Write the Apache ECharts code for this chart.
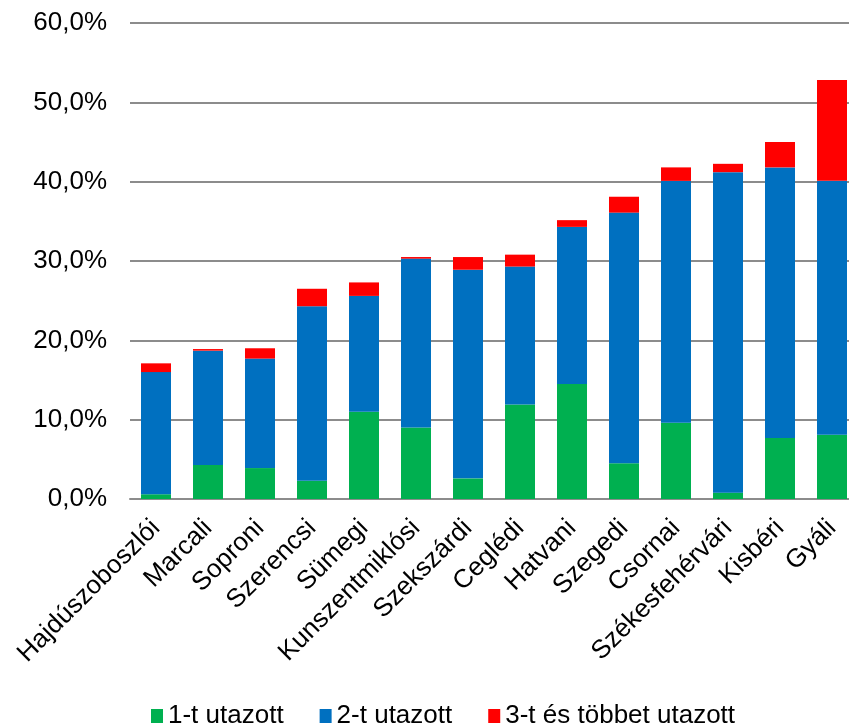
<!DOCTYPE html>
<html>
<head>
<meta charset="utf-8">
<script src="https://cdn.jsdelivr.net/npm/echarts@6/dist/echarts.min.js"></script>
<style>
html,body{margin:0;padding:0;background:#fff;}
#chart{width:849px;height:725px;}
</style>
</head>
<body>
<div id="chart"></div>
<script>
const categories = ['Hajdúszoboszlói','Marcali','Soproni','Szerencsi','Sümegi','Kunszentmiklósi','Szekszárdi','Ceglédi','Hatvani','Szegedi','Csornai','Székesfehérvári','Kisbéri','Gyáli'];
const seriesNames = ['1-t utazott','2-t utazott','3-t és többet utazott'];
const one = [0.6, 4.3, 3.9, 2.3, 11.0, 9.0, 2.6, 11.9, 14.5, 4.5, 9.6, 0.8, 7.7, 8.1];
const two = [15.4, 14.4, 13.8, 22.0, 14.6, 21.3, 26.3, 17.4, 19.8, 31.6, 30.5, 40.4, 34.1, 32.0];
const three = [1.1, 0.2, 1.3, 2.2, 1.7, 0.2, 1.6, 1.5, 0.85, 2.0, 1.7, 1.05, 3.2, 12.7];
const yTicks = [0, 10, 20, 30, 40, 50, 60];

const font = 'Liberation Sans, Arial, sans-serif';
const colors = ['#00B050', '#0070C0', '#FF0000'];
const chart = echarts.init(document.getElementById('chart'), null, {renderer: 'canvas'});
const mk = (name, data, i) => ({
  name: name, type: 'bar', stack: 'total', data: data, barWidth: 30,
  itemStyle: {color: colors[i]}
});
chart.setOption({
  animation: false,
  color: colors,
  grid: {left: 130, top: 23, width: 728, bottom: 226, containLabel: false, outerBoundsMode: 'none'},
  legend: {
    top: 698, left: 146, itemWidth: 12, itemHeight: 14, itemGap: 36,
    icon: 'rect',
    textStyle: {fontFamily: font, fontSize: 26, color: '#000'},
    data: seriesNames
  },
  xAxis: {
    type: 'category', data: categories,
    axisLine: {show: true, lineStyle: {color: '#8c8c8c', width: 2}},
    axisTick: {show: false},
    axisLabel: {rotate: 45, margin: 25, interval: 0, fontFamily: font, fontSize: 26, color: '#000'}
  },
  yAxis: {
    type: 'value', min: yTicks[0], max: yTicks[yTicks.length - 1], interval: 10,
    axisLine: {show: false}, axisTick: {show: false},
    splitLine: {lineStyle: {color: '#8c8c8c', width: 2}},
    axisLabel: {margin: 23, fontFamily: font, fontSize: 26, color: '#000',
      formatter: v => v.toFixed(1).replace('.', ',') + '%'}
  },
  series: [mk(seriesNames[0], one, 0), mk(seriesNames[1], two, 1), mk(seriesNames[2], three, 2)]
});
</script>
</body>
</html>
